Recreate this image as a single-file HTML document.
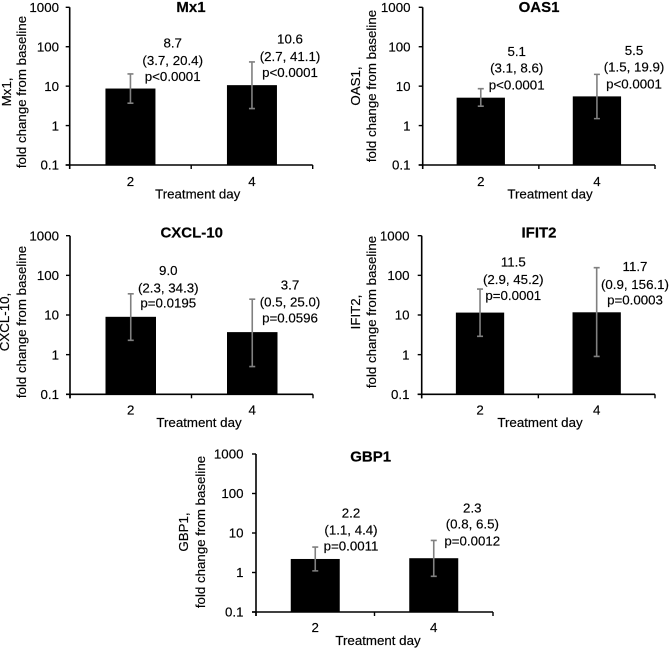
<!DOCTYPE html>
<html lang="en">
<head>
<meta charset="utf-8">
<title>Fold change from baseline by treatment day</title>
<style>
html,body{margin:0;padding:0;background:#fff;width:669px;height:649px;overflow:hidden}
svg{display:block;position:absolute;left:0;top:0;filter:blur(0.3px)}
text{font-family:"Liberation Sans",Arial,sans-serif;fill:#000;stroke:#000;stroke-width:0.18px}
</style>
</head>
<body>
<svg id="chart" width="669" height="649" viewBox="0 0 669 649" xmlns="http://www.w3.org/2000/svg"></svg>
<script>
// ---- Data ----
const genes = ["Mx1", "OAS1", "CXCL-10", "IFIT2", "GBP1"];
const categories = ["2", "4"];
const tickValues = [0.1, 1, 10, 100, 1000];
const tickLabels = ["0.1", "1", "10", "100", "1000"];
const means = [[8.7, 10.6], [5.1, 5.5], [9.0, 3.7], [11.5, 11.7], [2.2, 2.3]];
const ciLower = [[3.7, 2.7], [3.1, 1.5], [2.3, 0.5], [2.9, 0.9], [1.1, 0.8]];
const ciUpper = [[20.4, 41.1], [8.6, 19.9], [34.3, 25.0], [45.2, 156.1], [4.4, 6.5]];
const pValues = [
  ["p<0.0001", "p<0.0001"],
  ["p<0.0001", "p<0.0001"],
  ["p=0.0195", "p=0.0596"],
  ["p=0.0001", "p=0.0003"],
  ["p=0.0011", "p=0.0012"]
];
const xAxisTitle = "Treatment day";
const yAxisSuffix = "fold change from baseline";

// ---- Layout (pixels, separate from data) ----
const frames = [
  {l:69.7, r:312.7, t:7.3, b:165, barW:50, tickR:59, y1:11, y2:26, yC:92, titleX:191, titleY:12, xLabY:186, xTitleX:197.7, xTitleY:198.7},
  {l:422.7, r:655, t:7.3, b:165, barW:48.3, tickR:410.5, y1:360, y2:376, yC:86, titleX:539, titleY:12, xLabY:186, xTitleX:550, xTitleY:198.7},
  {l:70, r:313, t:235.7, b:394.3, barW:50.5, tickR:59, y1:9, y2:26, yC:322, titleX:191.7, titleY:237.7, xLabY:414.3, xTitleX:199, xTitleY:427},
  {l:421.7, r:655, t:235.7, b:394.3, barW:48.3, tickR:409.5, y1:360, y2:376, yC:312, titleX:539, titleY:237.7, xLabY:414.3, xTitleX:540, xTitleY:427},
  {l:256, r:493, t:454, b:612, barW:49, tickR:243.5, y1:188, y2:205, yC:532, titleX:370.7, titleY:461.7, xLabY:632, xTitleX:378, xTitleY:645}
];
const noteAnchors = [
  [{x:172.7, y:[47.7, 65, 81]}, {x:290, y:[43.7, 61, 77]}],
  [{x:516.7, y:[56, 72.3, 89.7]}, {x:634, y:[55, 71.3, 88.7]}],
  [{x:168.3, y:[275, 292.3, 307.7]}, {x:290, y:[289.7, 306.3, 322.3]}],
  [{x:513.3, y:[266.7, 284, 300]}, {x:635, y:[271, 289, 304.3]}],
  [{x:351, y:[517.7, 534.3, 550.3]}, {x:472.3, y:[512.7, 528.7, 545.3]}]
];

// ---- Helpers ----
const SVGNS = "http://www.w3.org/2000/svg";
const root = document.getElementById("chart");
function make(tag, parent, props) {
  const el = document.createElementNS(SVGNS, tag);
  Object.keys(props).forEach(function (k) { el.setAttribute(k, props[k]); });
  parent.appendChild(el);
  return el;
}
function yScale(frame, v) {
  const lo = Math.log10(tickValues[0]);
  const hi = Math.log10(tickValues[tickValues.length - 1]);
  return frame.b - (Math.log10(v) - lo) / (hi - lo) * (frame.b - frame.t);
}
function xScale(frame, i) {
  return frame.l + (i + 0.5) * (frame.r - frame.l) / categories.length;
}
function slug(s) { return s.toLowerCase().replace(/[^a-z0-9]+/g, "-"); }

const AXIS = "#000";
const ERR = "#808080";
const TEXT_SIZE = 13.3;
const TICK_SIZE = 13.3;

genes.forEach(function (gene, g) {
  const f = frames[g];
  const key = slug(gene);

  const panel = make("g", root, {});
  
  

  const title = make("text", panel, {x:f.titleX, y:f.titleY, "text-anchor":"middle", "font-size":15, "font-weight":"bold"});
  title.textContent = gene;
  
  

  // bars and error bars
  categories.forEach(function (cat, i) {
    const cx = xScale(f, i);
    const top = yScale(f, means[g][i]);
    const bar = make("rect", panel, {x:cx - f.barW / 2, y:top, width:f.barW, height:f.b - top, fill:"#000"});
    
    

    const yHi = yScale(f, ciUpper[g][i]);
    const yLo = yScale(f, ciLower[g][i]);
    const err = make("path", panel, {
      d: "M" + cx + " " + yHi + "V" + yLo + "M" + (cx - 3) + " " + yHi + "H" + (cx + 3) + "M" + (cx - 3) + " " + yLo + "H" + (cx + 3),
      fill: "none", stroke: ERR, "stroke-width": 1.6
    });
    
    

    const a = noteAnchors[g][i];
    const lines = [
      means[g][i].toFixed(1),
      "(" + ciLower[g][i].toFixed(1) + ", " + ciUpper[g][i].toFixed(1) + ")",
      pValues[g][i]
    ];
    const lineNames = ["mean", "ci", "p-value"];
    lines.forEach(function (line, n) {
      const t = make("text", panel, {x:a.x, y:a.y[n], "text-anchor":"middle", "font-size":TEXT_SIZE});
      t.textContent = line;
      
      
    });
  });

  // y axis
  const yAxis = make("line", panel, {x1:f.l, x2:f.l, y1:f.t, y2:f.b + 4, stroke:AXIS, "stroke-width":1.6});
  
  

  tickValues.forEach(function (v, i) {
    const y = yScale(f, v);
    const tick = make("line", panel, {x1:f.l - 4, x2:f.l, y1:y, y2:y, stroke:AXIS, "stroke-width":1.4});
    
    

    const lab = make("text", panel, {x:f.tickR, y:y + 4.7, "text-anchor":"end", "font-size":TICK_SIZE});
    lab.textContent = tickLabels[i];
    
    
  });

  // x axis
  const xAxis = make("line", panel, {x1:f.l - 4, x2:f.r, y1:f.b, y2:f.b, stroke:AXIS, "stroke-width":1.6});
  
  

  for (let k = 0; k <= categories.length; k++) {
    const x = f.l + k * (f.r - f.l) / categories.length;
    const xt = make("line", panel, {x1:x, x2:x, y1:f.b, y2:f.b + 4, stroke:AXIS, "stroke-width":1.4});
    
    
  }

  categories.forEach(function (cat, i) {
    const c = make("text", panel, {x:xScale(f, i), y:f.xLabY, "text-anchor":"middle", "font-size":TICK_SIZE});
    c.textContent = cat;
    
    
  });

  const xt = make("text", panel, {x:f.xTitleX, y:f.xTitleY, "text-anchor":"middle", "font-size":TEXT_SIZE});
  xt.textContent = xAxisTitle;
  
  

  // y axis title (two rotated lines)
  const yt1 = make("text", panel, {transform:"translate(" + f.y1 + " " + f.yC + ") rotate(-90)", "text-anchor":"middle", "font-size":TEXT_SIZE});
  yt1.textContent = gene + ",";
  
  

  const yt2 = make("text", panel, {transform:"translate(" + f.y2 + " " + f.yC + ") rotate(-90)", "text-anchor":"middle", "font-size":TEXT_SIZE});
  yt2.textContent = yAxisSuffix;
  
  
});
</script>
</body>
</html>
